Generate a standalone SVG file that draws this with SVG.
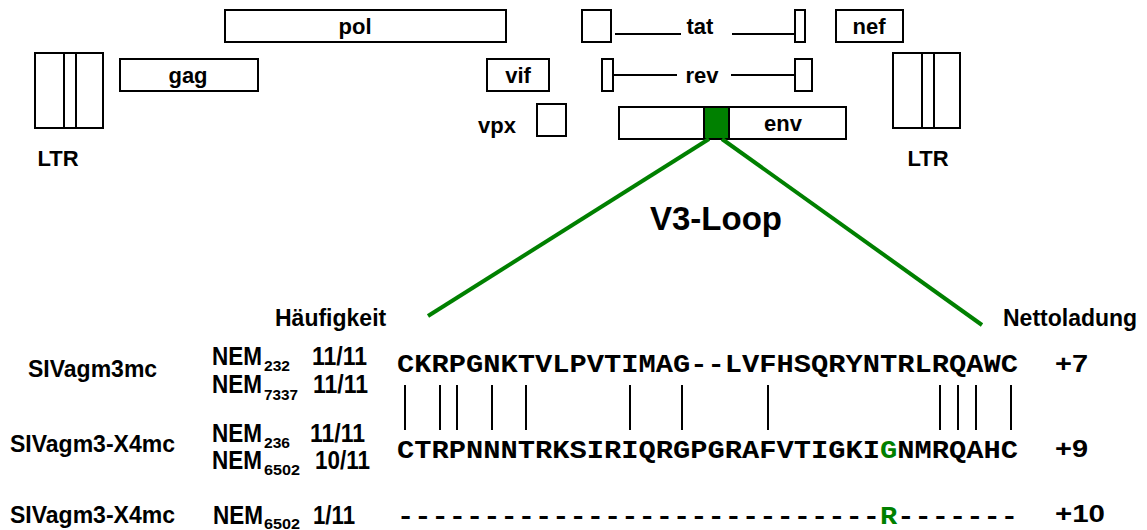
<svg xmlns="http://www.w3.org/2000/svg" width="1147" height="530" viewBox="0 0 1147 530">
<style>
.box{fill:#fff;stroke:#000;stroke-width:2}
.ln{stroke:#000;stroke-width:2;fill:none}
.gl{font-family:"Liberation Sans",Arial,sans-serif;font-weight:bold;font-size:22px;fill:#000}
.lb{font-family:"Liberation Sans",Arial,sans-serif;font-weight:bold;font-size:23px;fill:#000}
.nem{font-family:"Liberation Sans",Arial,sans-serif;font-weight:bold;font-size:26px;fill:#000}
.sub{font-family:"Liberation Sans",Arial,sans-serif;font-weight:bold;font-size:15px;fill:#000}
.seq{font-family:"Liberation Mono","Courier New",monospace;font-weight:bold;font-size:25px;fill:#000}
.chg{font-family:"Liberation Sans",Arial,sans-serif;font-weight:bold;font-size:23px;fill:#000}
.grn{fill:#008000}
.green{stroke:#008000;stroke-width:4;fill:none}
</style>
<rect width="1147" height="530" fill="#fff"/>
<g id="ltr-left">
<rect class="box" x="35" y="53" width="68" height="75"/>
<line class="ln" x1="64" y1="53" x2="64" y2="128"/>
<line class="ln" x1="76" y1="53" x2="76" y2="128"/>
<text class="gl" x="58" y="166" text-anchor="middle">LTR</text>
</g>
<g id="pol">
<rect class="box" x="225" y="10" width="281" height="32"/>
<text class="gl" x="355" y="34" text-anchor="middle">pol</text>
</g>
<g id="gag">
<rect class="box" x="120" y="59" width="138" height="32"/>
<text class="gl" x="188" y="83" text-anchor="middle">gag</text>
</g>
<g id="vif">
<rect class="box" x="487" y="59" width="62" height="32"/>
<text class="gl" x="518" y="83" text-anchor="middle">vif</text>
</g>
<g id="vpx">
<text class="gl" x="497" y="133" text-anchor="middle">vpx</text>
<rect class="box" x="537" y="104" width="29" height="32"/>
</g>
<g id="tat">
<rect class="box" x="582" y="10" width="29" height="32"/>
<line class="ln" x1="615" y1="34" x2="681" y2="34"/>
<text class="gl" x="700" y="34" text-anchor="middle">tat</text>
<line class="ln" x1="732" y1="34" x2="797" y2="34"/>
<rect class="box" x="795" y="10" width="10" height="32"/>
</g>
<g id="nef">
<rect class="box" x="836" y="10" width="67" height="32"/>
<text class="gl" x="869" y="34" text-anchor="middle">nef</text>
</g>
<g id="rev">
<rect class="box" x="602" y="59" width="11" height="32"/>
<line class="ln" x1="613" y1="75" x2="677" y2="75"/>
<text class="gl" x="702" y="83" text-anchor="middle">rev</text>
<line class="ln" x1="731" y1="75" x2="795" y2="75"/>
<rect class="box" x="795" y="59" width="17" height="32"/>
</g>
<g id="env">
<rect class="box" x="619" y="107" width="227" height="32"/>
<rect x="704" y="107" width="25" height="32" fill="#008000" stroke="#000" stroke-width="2"/>
<text class="gl" x="783" y="131" text-anchor="middle">env</text>
</g>
<g id="ltr-right">
<rect class="box" x="893" y="53" width="67" height="75"/>
<line class="ln" x1="922" y1="53" x2="922" y2="128"/>
<line class="ln" x1="934" y1="53" x2="934" y2="128"/>
<text class="gl" x="928" y="166" text-anchor="middle">LTR</text>
</g>
<g id="connectors">
<line class="green" x1="709" y1="139" x2="428" y2="316"/>
<line class="green" x1="722" y1="139" x2="982" y2="325"/>
<g class="ln">
<line x1="405" y1="385" x2="405" y2="430"/>
<line x1="440" y1="385" x2="440" y2="430"/>
<line x1="457" y1="385" x2="457" y2="430"/>
<line x1="492" y1="385" x2="492" y2="430"/>
<line x1="526" y1="385" x2="526" y2="430"/>
<line x1="630" y1="385" x2="630" y2="430"/>
<line x1="682" y1="385" x2="682" y2="430"/>
<line x1="768" y1="385" x2="768" y2="430"/>
<line x1="940" y1="385" x2="940" y2="430"/>
<line x1="958" y1="385" x2="958" y2="430"/>
<line x1="976" y1="385" x2="976" y2="430"/>
<line x1="1011" y1="385" x2="1011" y2="430"/>
</g>
</g>
<g id="v3-loop">
<text class="lb" x="716" y="230" text-anchor="middle" style="font-size:33px">V3-Loop</text>
</g>
<g id="headers">
<text class="lb" x="275" y="326">Häufigkeit</text>
<text class="lb" x="1003" y="326">Nettoladung</text>
</g>
<g id="row1">
<text class="lb" x="28" y="377">SIVagm3mc</text>
<text class="nem" x="212" y="365" textLength="50" lengthAdjust="spacingAndGlyphs">NEM</text>
<text class="sub" x="264" y="371" textLength="26" lengthAdjust="spacingAndGlyphs">232</text>
<text class="nem" x="312" y="365" textLength="55" lengthAdjust="spacingAndGlyphs">11/11</text>
<text class="nem" x="212" y="393" textLength="50" lengthAdjust="spacingAndGlyphs">NEM</text>
<text class="sub" x="264" y="400" textLength="34" lengthAdjust="spacingAndGlyphs">7337</text>
<text class="nem" x="313" y="393" textLength="55" lengthAdjust="spacingAndGlyphs">11/11</text>
<text class="seq" x="397" y="372" textLength="621" lengthAdjust="spacingAndGlyphs">CKRPGNKTVLPVTIMAG--LVFHSQRYNTRLRQAWC</text>
<text class="chg" x="1055" y="372" textLength="33" lengthAdjust="spacingAndGlyphs">+7</text>
</g>
<g id="row2">
<text class="lb" x="10" y="452">SIVagm3-X4mc</text>
<text class="nem" x="212" y="442" textLength="50" lengthAdjust="spacingAndGlyphs">NEM</text>
<text class="sub" x="264" y="448" textLength="26" lengthAdjust="spacingAndGlyphs">236</text>
<text class="nem" x="310" y="442" textLength="55" lengthAdjust="spacingAndGlyphs">11/11</text>
<text class="nem" x="212" y="469" textLength="50" lengthAdjust="spacingAndGlyphs">NEM</text>
<text class="sub" x="264" y="475" textLength="36" lengthAdjust="spacingAndGlyphs">6502</text>
<text class="nem" x="315" y="469" textLength="55" lengthAdjust="spacingAndGlyphs">10/11</text>
<text class="seq" x="397" y="458" textLength="621" lengthAdjust="spacingAndGlyphs">CTRPNNNTRKSIRIQRGPGRAFVTIGKI<tspan class="grn">G</tspan>NMRQAHC</text>
<text class="chg" x="1055" y="457" textLength="33" lengthAdjust="spacingAndGlyphs">+9</text>
</g>
<g id="row3">
<text class="lb" x="10" y="523">SIVagm3-X4mc</text>
<text class="nem" x="213" y="524" textLength="50" lengthAdjust="spacingAndGlyphs">NEM</text>
<text class="sub" x="264" y="529" textLength="36" lengthAdjust="spacingAndGlyphs">6502</text>
<text class="nem" x="313" y="524" textLength="42" lengthAdjust="spacingAndGlyphs">1/11</text>
<text class="seq" x="397" y="524" textLength="621" lengthAdjust="spacingAndGlyphs">----------------------------<tspan class="grn">R</tspan>-------</text>
<text class="chg" x="1055" y="522" textLength="50" lengthAdjust="spacingAndGlyphs">+10</text>
</g>
</svg>
